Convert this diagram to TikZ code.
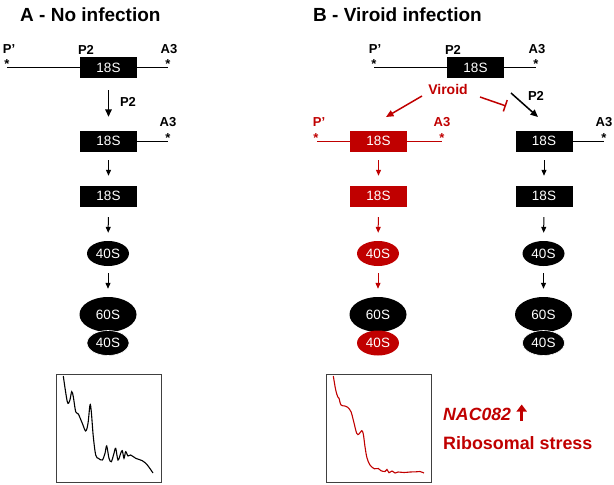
\documentclass[tikz,border=0pt]{standalone}
\usepackage{fontspec}
\setmainfont{Liberation Sans}
\usetikzlibrary{arrows.meta,shapes.geometric}
\definecolor{vred}{RGB}{192,0,0}
\begin{document}
\begin{tikzpicture}[x=1pt,y=-1pt,
  ttl/.style={font=\fontsize{19}{19}\selectfont\bfseries, inner sep=0, anchor=west},
  lab/.style={font=\fontsize{13}{13}\selectfont\bfseries, inner sep=0},
  astr/.style={font=\fontsize{13}{13}\selectfont\bfseries, inner sep=0, anchor=base},
  rbox/.style={rectangle, fill=#1, minimum width=57pt, minimum height=21pt, inner sep=0, text=white, font=\fontsize{13.5}{13.5}\selectfont},
  sell/.style={ellipse, fill=#1, minimum width=42pt, minimum height=25pt, inner sep=0, text=white, font=\fontsize{13.5}{13.5}\selectfont},
  bell/.style={ellipse, fill=black, minimum width=57pt, minimum height=35pt, inner sep=0, text=white, font=\fontsize{13.5}{13.5}\selectfont},
  arr/.style={-{Triangle[length=6pt,width=5pt]}, line width=1pt},
  bigarr/.style={-{Triangle[length=7.5pt,width=6.5pt]}, line width=1.5pt},
  rline/.style={line width=0.8pt},
  gbox/.style={draw=black!75, line width=0.9pt},
  curve/.style={line width=1.1pt, smooth, tension=0.55}
]
\useasboundingbox (0,0) rectangle (614,485);

% titles
\node[ttl] (tA) at (20,15) {A - No infection};
\node[ttl] (tB) at (313,15) {B - Viroid infection};

% ---------------- Panel A ----------------
\node[rbox=black] (a1) at (108.5,67.5) {18S};
\coordinate (aL) at (7,67.5);
\coordinate (aR) at (168,67.5);
\draw[rline] (aL) -- (a1.west);
\draw[rline] (a1.east) -- (aR);
\node[lab] (aPp) at (9,49.5) {P’};
\node[lab] (aP2) at (86,49.5) {P2};
\node[lab] (aA3) at (169,49.5) {A3};
\node[astr] (aS1) at (7,68.5) {*};
\node[astr] (aS2) at (168,68.5) {*};

\node[rbox=black] (a2) at (108.5,141) {18S};
\coordinate (aR2) at (168,141);
\draw[rline] (a2.east) -- (aR2);
\node[lab] (aA3b) at (168,122) {A3};
\node[astr] (aS3) at (168,142.5) {*};

\node[rbox=black] (a3) at (108.5,196) {18S};
\node[sell=black] (a4) at (108,253.5) {40S};
\node[bell] (a5) at (108,314.5) {60S};
\node[sell=black, draw=white, line width=0.6pt] (a6) at (108,343) {40S};

\draw[bigarr, shorten <=12pt, shorten >=13.5pt] (a1) -- (a2);
\node[lab] (aP2b) at (128,101.5) {P2};
\draw[arr, shorten <=8.5pt, shorten >=9.5pt] (a2) -- (a3);
\draw[arr, shorten <=10.5pt, shorten >=8pt] (a3) -- (a4);
\draw[arr, shorten <=7pt, shorten >=8pt] (a4) -- (a5);

% ---------------- Panel B ----------------
\node[rbox=black] (b1) at (475.5,67.5) {18S};
\coordinate (bL) at (374,67.5);
\coordinate (bR) at (536,67.5);
\draw[rline] (bL) -- (b1.west);
\draw[rline] (b1.east) -- (bR);
\node[lab] (bPp) at (375,49.5) {P’};
\node[lab] (bP2) at (453,49.5) {P2};
\node[lab] (bA3) at (537,49.5) {A3};
\node[astr] (bS1) at (374,68.5) {*};
\node[astr] (bS2) at (536,68.5) {*};

\node[lab, text=vred, font=\fontsize{14}{14}\selectfont\bfseries] (vir) at (448,89.3) {Viroid};
\coordinate (vr1) at (422,96);
\coordinate (vr2) at (386,117);
\draw[bigarr, vred] (vr1) -- (vr2);
\coordinate (vi1) at (480,97);
\coordinate (vi2) at (506,106);
\draw[vred, line width=1.5pt, -{Bar[width=12pt,line width=1.5pt]}] (vi1) -- (vi2);
\coordinate (bk1) at (511,93);
\coordinate (bk2) at (538,117);
\draw[bigarr] (bk1) -- (bk2);
\node[lab] (bP2b) at (536,96) {P2};

% red branch
\node[rbox=vred] (r2) at (378.5,141) {18S};
\coordinate (rL) at (317,141);
\coordinate (rR) at (442,141);
\draw[rline, vred] (rL) -- (r2.west);
\draw[rline, vred] (r2.east) -- (rR);
\node[lab, text=vred] (rPp) at (319,122) {P’};
\node[lab, text=vred] (rA3) at (442,122) {A3};
\node[astr, text=vred] (rS1) at (316,142.5) {*};
\node[astr, text=vred] (rS2) at (442,142.5) {*};
\node[rbox=vred] (r3) at (378.5,196) {18S};
\node[sell=vred] (r4) at (378,253.5) {40S};
\node[bell] (r5) at (378,314.5) {60S};
\node[sell=vred] (r6) at (378,343) {40S};
\draw[arr, vred, shorten <=8.5pt, shorten >=9.5pt] (r2) -- (r3);
\draw[arr, vred, shorten <=10.5pt, shorten >=8pt] (r3) -- (r4);
\draw[arr, vred, shorten <=7pt, shorten >=8pt] (r4) -- (r5);

% black branch
\node[rbox=black] (k2) at (544,141) {18S};
\coordinate (kR) at (604,141);
\draw[rline] (k2.east) -- (kR);
\node[lab] (kA3) at (604,122) {A3};
\node[astr] (kS) at (604,142.5) {*};
\node[rbox=black] (k3) at (544,196) {18S};
\node[sell=black] (k4) at (543.5,253.5) {40S};
\node[bell] (k5) at (543.5,314.5) {60S};
\node[sell=black, draw=white, line width=0.6pt] (k6) at (543.5,343) {40S};
\draw[arr, shorten <=8.5pt, shorten >=9.5pt] (k2) -- (k3);
\draw[arr, shorten <=10.5pt, shorten >=8pt] (k3) -- (k4);
\draw[arr, shorten <=7pt, shorten >=8pt] (k4) -- (k5);

% ---------------- profiles ----------------
\draw[gbox] (56,374) rectangle (161,482);
\draw[curve] plot coordinates {(63.3,376) (67.3,401.7) (69.7,400.7) (71.7,391.7) (73.3,396.7) (75.7,411.7) (78.3,414) (82.3,423.3) (85.7,431) (88,423.3) (90,405) (91.3,411.7) (93.3,436.7) (95.7,455) (98.3,458.3) (102.3,460) (105,453.3) (106.7,446) (109,458.3) (111.3,461.7) (114,453.3) (115.7,448.3) (118,460) (120.7,453.3) (122.3,450.7) (124,458.3) (125.7,451.7) (128,456) (130.7,455) (135.7,458.3) (142.3,460.7) (147.3,465) (153,473)};

\draw[gbox] (326,374) rectangle (431,482);
\draw[curve, vred] plot coordinates {(333.3,376) (335.7,390) (337.7,396.7) (339,398.3) (341,405) (345,406) (347.7,407.3) (351,411.7) (353.3,420) (356.7,433.3) (359,434) (361.7,430.7) (363.3,434) (365,446.7) (367,458) (370,465) (374.3,468.7) (378.3,468.5) (381,470.7) (385,471.5) (387,469.5) (389,472.7) (392,471) (395,473) (398,472) (404,472.5) (410,472) (416,471.8) (420,471.5) (424,473)};

% ---------------- ribosomal stress ----------------
\node[anchor=west, inner sep=0, text=vred, font=\fontsize{17.7}{18}\selectfont\bfseries\itshape] (nac) at (443,414) {NAC082};
\coordinate (nacB) at (521.7,421);
\coordinate (nacT) at (521.7,404.5);
\draw[vred, line width=2.6pt, -{Triangle[length=7pt,width=10pt]}] (nacB) -- (nacT);
\node[anchor=west, inner sep=0, text=vred, font=\fontsize{17.9}{18}\selectfont\bfseries] (rs) at (443,443) {Ribosomal stress};
\end{tikzpicture}
\end{document}
